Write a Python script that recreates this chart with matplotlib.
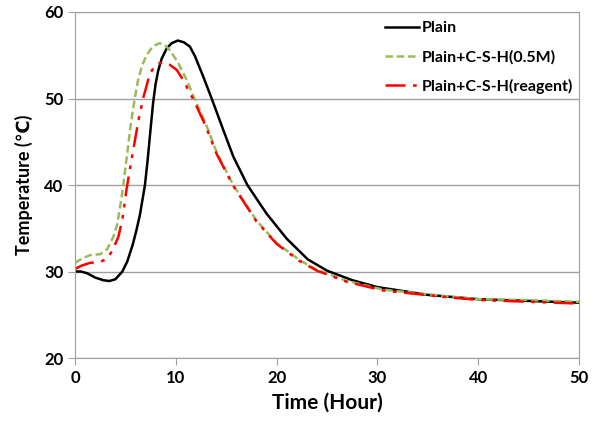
import matplotlib
matplotlib.use('Agg')
from matplotlib import pyplot as plt

plt.rcParams['font.family'] = ['Lato', 'DejaVu Sans']
plt.rcParams['font.weight'] = 'bold'

# Plain
t_plain = [0, 0.6, 1.2, 2, 2.8, 3.4, 4.0, 4.7, 5.2, 5.75, 6.1, 6.45, 6.94, 7.2, 7.45, 7.75,
           8.0, 8.25, 8.6, 9.1, 9.6, 10.2, 10.8, 11.4, 11.9, 12.7, 13.56, 14.7, 15.7, 17.1,
           19.0, 21.0, 23.1, 25, 27.5, 30, 35, 40, 45, 50]
temp_plain = [30, 30.0, 29.8, 29.3, 29.0, 28.9, 29.1, 30.0, 31.2, 33.2, 34.8, 36.6, 40, 42.8,
              45.9, 49.5, 51.7, 53.2, 54.6, 55.8, 56.4, 56.7, 56.5, 56.0, 54.9, 52.6, 50,
              46.4, 43.3, 40, 36.7, 33.8, 31.4, 30.1, 29.0, 28.2, 27.3, 26.8, 26.6, 26.4]

# Plain+C-S-H(0.5M)
t_05m = [0, 0.7, 1.5, 2.5, 3.2, 3.8, 4.2, 4.63, 4.95, 5.26, 5.5, 5.75, 6.0, 6.25, 6.65, 7.1,
         7.7, 8.4, 9.0, 9.4, 10.2, 11.1, 11.7, 12.9, 14.05, 15.7, 18.0, 20.0, 22.3, 24, 27,
         30.6, 37.2, 40.2, 45, 50]
temp_05m = [31.0, 31.5, 31.9, 32.0, 32.6, 34.0, 35.5, 38.6, 41.5, 44.4, 46.7, 48.7, 50.5,
            52.1, 53.8, 55.0, 56.0, 56.4, 56.1, 55.6, 54.2, 52.1, 50.4, 47.3, 43.8, 40.0,
            35.9, 33.3, 31.3, 30.2, 28.9, 27.9, 27.1, 26.8, 26.7, 26.5]

# Plain+C-S-H(reagent)
t_reag = [0, 0.7, 1.5, 2.5, 3.2, 3.7, 4.3, 4.7, 5.1, 5.4, 5.65, 6.3, 6.8, 7.44, 8.0, 8.7,
          9.4, 10.1, 10.8, 11.4, 11.7, 12.9, 14.05, 15.7, 18.0, 20.0, 22.3, 24, 27, 30.6,
          37.2, 40.2, 45, 50]
temp_reag = [30.3, 30.7, 31.0, 31.1, 31.5, 32.4, 34.0, 36.0, 39.4, 41.5, 43.2, 47.5, 50.2,
             52.9, 53.9, 54.2, 53.9, 53.3, 52.0, 50.6, 50.0, 47.0, 43.6, 39.9, 35.8, 33.2,
             31.2, 30.1, 28.8, 27.8, 27.0, 26.7, 26.5, 26.3]

fig = plt.figure(figsize=(6.01, 4.21), dpi=100)
ax = fig.add_axes([0.1248, 0.1496, 0.8385, 0.8219])

ax.plot(t_plain, temp_plain, color='black', lw=1.8, label='Plain')
ax.plot(t_05m, temp_05m, color='#9BBB59', lw=1.8, dashes=(3, 1.5), label='Plain+C-S-H(0.5M)')
ax.plot(t_reag, temp_reag, color='red', lw=1.8, dashes=(8, 3, 1.5, 3, 1.5, 3),
        label='Plain+C-S-H(reagent)')

ax.set_xlim(0, 50)
ax.set_ylim(20, 60)
ax.set_xticks(range(0, 51, 10))
ax.set_yticks(range(20, 61, 10))
ax.grid(axis='y', color='#A0A0A0', lw=1)
ax.set_axisbelow(True)
for s in ax.spines.values():
    s.set_color('#A0A0A0')
ax.tick_params(colors='#A0A0A0', labelcolor='black', labelsize=12, length=5)
for lab in ax.get_xticklabels() + ax.get_yticklabels():
    lab.set_fontweight('bold')

ax.set_xlabel('Time (Hour)', fontsize=15, fontweight='bold', labelpad=5)
ax.set_ylabel('Temperature (℃)', fontsize=13, fontweight='bold', labelpad=8)

ax.legend(loc='upper left', bbox_to_anchor=(0.587, 1.015), frameon=False,
          prop={'weight': 'bold', 'size': 11.5}, handlelength=2.1, labelspacing=0.9,
          handletextpad=0.2)

fig.savefig('out.png', dpi=100)
